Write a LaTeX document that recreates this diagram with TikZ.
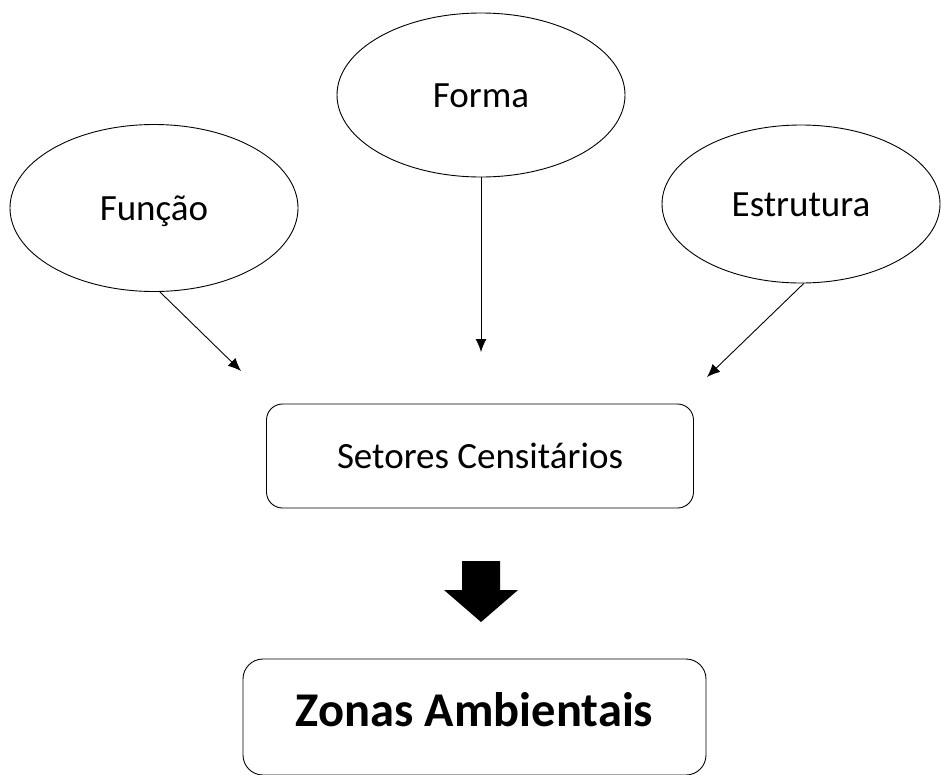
\documentclass[tikz,border=0pt]{standalone}
\usepackage{fontspec}
\setmainfont{Carlito}
\usetikzlibrary{shapes.geometric, arrows.meta}

\begin{document}
\begin{tikzpicture}[
    x=1pt, y=-1pt,
    aspect/.style={ellipse, draw, line width=0.9pt, inner sep=0pt, text height=24pt, text depth=0pt, font=\fontsize{37}{44}\selectfont},
    sector/.style={rectangle, draw, rounded corners=16pt, line width=0.9pt, minimum width=427pt, minimum height=104pt, text height=24pt, text depth=0pt, font=\fontsize{37}{44}\selectfont},
    zone/.style={rectangle, draw, rounded corners=20pt, line width=0.9pt, minimum width=463pt, minimum height=116pt, text height=31pt, text depth=12pt, font=\bfseries\fontsize{48.5}{58}\selectfont},
    link/.style={-{Latex[length=13pt, width=11pt]}, line width=0.9pt}
]
    \useasboundingbox (0,0) rectangle (941,774);

    % Aspects
    \node[aspect, minimum width=288pt, minimum height=167pt] (funcao) at (154,208) {Função};
    \node[aspect, minimum width=288pt, minimum height=164pt] (forma) at (481,95) {Forma};
    \node[aspect, minimum width=278pt, minimum height=158pt] (estrutura) at (801,204) {Estrutura};

    % Census sectors
    \node[sector] (setores) at (480,456) {Setores Censitários};

    % Free ends of the arrows
    \coordinate (endfuncao) at (241,371);
    \coordinate (endforma) at (481,352);
    \coordinate (endestrutura) at (707,377);

    % Connections
    \draw[link] (funcao.-86) -- (endfuncao);
    \draw[link] (forma.south) -- (endforma);
    \draw[link] (estrutura.-88) -- (endestrutura);

    % Big arrow
    \fill (462,561) -- (500,561) -- (500,590) -- (518,590) -- (481,622)
        -- (444,590) -- (462,590) -- cycle;

    % Environmental zones
    \node[zone] (zonas) at (474.5,717) {Zonas Ambientais};
\end{tikzpicture}
\end{document}
